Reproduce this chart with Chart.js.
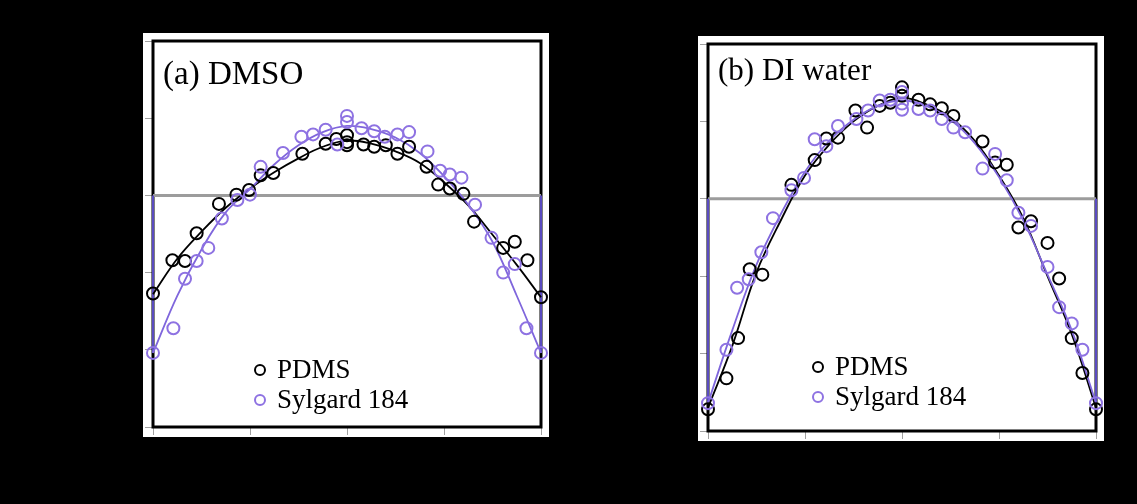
<!DOCTYPE html>
<html>
<head>
<meta charset="utf-8">
<script src="https://cdn.jsdelivr.net/npm/chart.js@4.4.1/dist/chart.umd.min.js"></script>
<style>
  html, body { margin: 0; background: #000; }
  body { width: 1137px; height: 504px; position: relative; overflow: hidden; }
  .panel { position: absolute; background: #fff; }
  #panelA { left: 143px; top: 33px; width: 406px; height: 404px; }
  #panelB { left: 698px; top: 36px; width: 406px; height: 405px; }
</style>
</head>
<body>
<div class="panel" id="panelA"><canvas id="chartA" width="406" height="404"></canvas></div>
<div class="panel" id="panelB"><canvas id="chartB" width="406" height="405"></canvas></div>
<script>
const seriesNames = ['PDMS', 'Sylgard 184'];
const baselineY = 3;
const xTicks = [0, 1, 2, 3, 4];
const yTicks = [0, 1, 2, 3, 4, 5];

// (a) DMSO
const dmsoPdmsX = [0.00, 0.20, 0.33, 0.45, 0.68, 0.86, 0.99, 1.11, 1.24, 1.54, 1.78, 1.89, 2.00, 2.00, 2.00, 2.17, 2.28, 2.40, 2.52, 2.64, 2.82, 2.94, 3.06, 3.20, 3.31, 3.61, 3.73, 3.86, 4.00];
const dmsoPdmsY = [1.73, 2.16, 2.15, 2.51, 2.89, 3.01, 3.07, 3.26, 3.29, 3.54, 3.67, 3.73, 3.78, 3.69, 3.65, 3.66, 3.63, 3.65, 3.54, 3.63, 3.37, 3.14, 3.09, 3.02, 2.66, 2.32, 2.40, 2.16, 1.68];
const dmsoSylX = [0.00, 0.21, 0.33, 0.45, 0.57, 0.71, 0.87, 1.00, 1.11, 1.34, 1.53, 1.65, 1.78, 1.90, 2.00, 2.00, 2.15, 2.28, 2.39, 2.52, 2.64, 2.83, 2.96, 3.06, 3.18, 3.32, 3.49, 3.61, 3.73, 3.85, 4.00];
const dmsoSylY = [0.96, 1.28, 1.92, 2.15, 2.32, 2.70, 2.94, 3.01, 3.37, 3.55, 3.76, 3.79, 3.85, 3.66, 4.03, 3.95, 3.87, 3.83, 3.76, 3.79, 3.82, 3.57, 3.32, 3.27, 3.23, 2.88, 2.45, 2.00, 2.11, 1.28, 0.96];

const fitX = [0, 0.25, 0.5, 0.75, 1, 1.25, 1.5, 1.75, 2, 2.25, 2.5, 2.75, 3, 3.25, 3.5, 3.75, 4];
const dmsoPdmsFit = [1.72, 2.18, 2.53, 2.84, 3.09, 3.30, 3.48, 3.63, 3.71, 3.67, 3.57, 3.42, 3.17, 2.87, 2.49, 2.10, 1.68];
const dmsoSylFit = [0.96, 1.70, 2.30, 2.78, 3.08, 3.40, 3.65, 3.82, 3.90, 3.86, 3.75, 3.55, 3.25, 2.88, 2.40, 1.70, 0.96];

// (b) DI water
const waterPdmsX = [0.00, 0.19, 0.31, 0.43, 0.56, 0.86, 1.10, 1.22, 1.34, 1.52, 1.64, 1.77, 1.88, 2.00, 2.00, 2.17, 2.29, 2.41, 2.53, 2.83, 2.96, 3.08, 3.20, 3.33, 3.50, 3.62, 3.75, 3.86, 4.00];
const waterPdmsY = [0.28, 0.68, 1.20, 2.09, 2.02, 3.18, 3.50, 3.78, 3.79, 4.14, 3.92, 4.20, 4.24, 4.44, 4.33, 4.28, 4.22, 4.17, 4.07, 3.74, 3.47, 3.44, 2.63, 2.71, 2.43, 1.97, 1.20, 0.75, 0.28];
const waterSylX = [0.00, 0.19, 0.30, 0.42, 0.55, 0.67, 0.86, 0.99, 1.10, 1.22, 1.34, 1.53, 1.65, 1.77, 1.88, 2.00, 2.00, 2.00, 2.17, 2.29, 2.41, 2.53, 2.65, 2.83, 2.96, 3.08, 3.20, 3.33, 3.50, 3.62, 3.75, 3.86, 4.00];
const waterSylY = [0.36, 1.05, 1.85, 1.96, 2.31, 2.75, 3.11, 3.27, 3.77, 3.68, 3.94, 4.03, 4.14, 4.27, 4.28, 4.38, 4.23, 4.15, 4.16, 4.14, 4.03, 3.92, 3.86, 3.39, 3.58, 3.24, 2.82, 2.65, 2.12, 1.60, 1.39, 1.05, 0.36];
const waterPdmsFit = [0.30, 1.10, 2.05, 2.72, 3.30, 3.70, 4.00, 4.20, 4.30, 4.22, 4.05, 3.75, 3.30, 2.75, 2.00, 1.25, 0.30];
const waterSylFit = [0.36, 1.30, 2.15, 2.80, 3.35, 3.75, 4.02, 4.20, 4.27, 4.20, 4.02, 3.72, 3.28, 2.72, 2.02, 1.30, 0.36];

const black = '#000000';
const purple = '#8e72e2';
const purpleLine = '#7f66dc';
const purpleEdge = '#5a4cc0';
const grey = '#9c9c9c';

const pts = (xs, ys) => xs.map((x, i) => ({ x: x, y: ys[i] }));

const framePlugin = {
    id: 'frame',
    beforeDatasetsDraw(chart) {
        const a = chart.chartArea;
        const ctx = chart.ctx;
        ctx.save();
        ctx.strokeStyle = '#000';
        ctx.lineWidth = 3;
        ctx.strokeRect(a.left, a.top, a.right - a.left, a.bottom - a.top);
        ctx.restore();
    }
};

const textPlugin = {
    id: 'texts',
    afterDraw(chart, args, opts) {
        const a = chart.chartArea;
        const ctx = chart.ctx;
        ctx.save();
        ctx.fillStyle = '#000';
        ctx.textBaseline = 'alphabetic';
        ctx.font = opts.titleSize + 'px "Liberation Serif"';
        ctx.fillText(opts.title, a.left + 10, a.top + opts.titleY);
        ctx.font = '27px "Liberation Serif"';
        const colors = [black, purple];
        seriesNames.forEach((name, i) => {
            const base = a.top + opts.legendY + i * 30;
            ctx.beginPath();
            ctx.arc(a.left + opts.legendX, base - 8, 5, 0, Math.PI * 2);
            ctx.lineWidth = 2;
            ctx.strokeStyle = colors[i];
            ctx.stroke();
            ctx.fillText(name, a.left + opts.legendX + 17, base);
        });
        ctx.restore();
    }
};

function makeChart(id, p, texts) {
    return new Chart(document.getElementById(id), {
        type: 'scatter',
        data: {
            datasets: [
                { data: [{ x: xTicks[0], y: baselineY }, { x: xTicks[xTicks.length - 1], y: baselineY }], showLine: true, borderColor: grey, borderWidth: 3, pointRadius: 0, order: 7 },
                { data: [{ x: xTicks[0], y: baselineY }, { x: xTicks[0], y: p.sylFit[0] }], showLine: true, borderColor: purpleEdge, borderWidth: 2, pointRadius: 0, order: 6 },
                { data: [{ x: xTicks[xTicks.length - 1], y: baselineY }, { x: xTicks[xTicks.length - 1], y: p.sylFit[p.sylFit.length - 1] }], showLine: true, borderColor: purpleEdge, borderWidth: 2, pointRadius: 0, order: 6 },
                { label: seriesNames[0] + ' fit', data: pts(fitX, p.pdmsFit), showLine: true, tension: 0.4, borderColor: black, borderWidth: 1.8, pointRadius: 0, order: 5 },
                { label: seriesNames[1] + ' fit', data: pts(fitX, p.sylFit), showLine: true, tension: 0.4, borderColor: purpleLine, borderWidth: 1.8, pointRadius: 0, order: 4 },
                { label: seriesNames[0], data: pts(p.pdmsX, p.pdmsY), pointRadius: 6, pointBorderWidth: 2, pointBorderColor: black, pointBackgroundColor: 'rgba(0,0,0,0)', order: 3 },
                { label: seriesNames[1], data: pts(p.sylX, p.sylY), pointRadius: 6, pointBorderWidth: 2, pointBorderColor: purple, pointBackgroundColor: 'rgba(0,0,0,0)', order: 2 }
            ]
        },
        options: {
            responsive: false,
            animation: false,
            clip: false,
            layout: { padding: { top: 5, right: 8, left: 0, bottom: 0 } },
            scales: {
                x: {
                    type: 'linear', min: xTicks[0], max: xTicks[xTicks.length - 1],
                    afterBuildTicks: s => { s.ticks = xTicks.map(v => ({ value: v })); },
                    afterFit: s => { s.height = 10; },
                    ticks: { display: false },
                    grid: { drawOnChartArea: false, tickLength: 8, color: '#a0a0a0' },
                    border: { display: false }
                },
                y: {
                    type: 'linear', min: yTicks[0], max: yTicks[yTicks.length - 1],
                    afterBuildTicks: s => { s.ticks = yTicks.map(v => ({ value: v })); },
                    afterFit: s => { s.width = 10; },
                    ticks: { display: false },
                    grid: { drawOnChartArea: false, tickLength: 8, color: '#a0a0a0' },
                    border: { display: false }
                }
            },
            plugins: {
                legend: { display: false },
                tooltip: { enabled: false },
                texts: texts
            }
        },
        plugins: [framePlugin, textPlugin]
    });
}

makeChart('chartA',
    { pdmsX: dmsoPdmsX, pdmsY: dmsoPdmsY, sylX: dmsoSylX, sylY: dmsoSylY, pdmsFit: dmsoPdmsFit, sylFit: dmsoSylFit },
    { title: '(a) DMSO', titleSize: 33, titleY: 43, legendX: 107, legendY: 337 });

makeChart('chartB',
    { pdmsX: waterPdmsX, pdmsY: waterPdmsY, sylX: waterSylX, sylY: waterSylY, pdmsFit: waterPdmsFit, sylFit: waterSylFit },
    { title: '(b) DI water', titleSize: 31, titleY: 36, legendX: 110, legendY: 331 });
</script>
</body>
</html>
